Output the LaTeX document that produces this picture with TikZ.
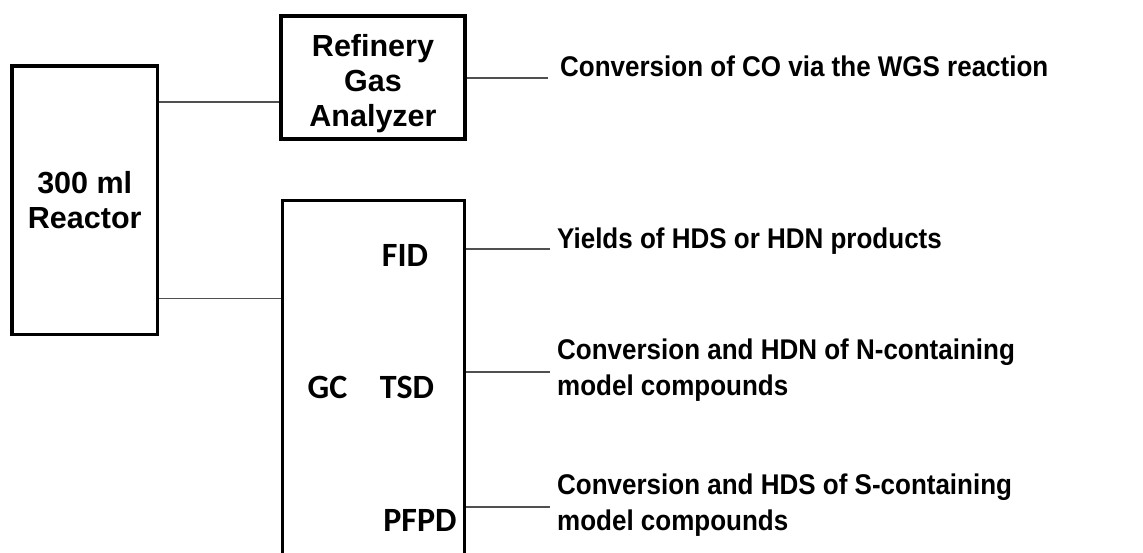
\documentclass[tikz,border=0pt]{standalone}
\usepackage{fontspec}
\setmainfont{Liberation Sans}
\newfontfamily\calfont{Carlito}
\newfontfamily\resfont{Liberation Sans}[FakeStretch=0.912]
\definecolor{linegray}{RGB}{80,80,80}
\begin{document}
\begin{tikzpicture}[x=1pt,y=-1pt,
  box/.style={draw, line width=3.5pt, inner sep=0pt},
  boxtext/.style={inner sep=0pt, align=center,
    font=\bfseries\fontsize{30.5}{35}\selectfont},
  conn/.style={draw=linegray, line width=1.7pt},
  det/.style={inner sep=0pt, font=\calfont\bfseries\fontsize{34}{38}\selectfont},
  res/.style={inner sep=0pt, align=left, anchor=west,
    font=\resfont\bfseries\fontsize{28.5}{35.5}\selectfont}]
\useasboundingbox (0,0) rectangle (1143,552);
\clip (0,0) rectangle (1143,552);
\fill[white] (0,0) rectangle (1143,552);
% boxes
\node[box, minimum width=145.5pt, minimum height=268.5pt] (reactor) at (84.75,200.25) {};
\node[boxtext] (reactortext) at (reactor.center) {300 ml\\Reactor};
\node[box, minimum width=184pt, minimum height=123pt] (rga) at (373,77.5) {};
\node[boxtext] (rgatext) at ([yshift=-6pt]rga.center) {Refinery\\Gas\\Analyzer};
\node[box, minimum width=182pt, minimum height=380pt] (gc) at (373.5,390.5) {};
% detector labels
\node[det] (gclbl) at (327.5,387) {GC};
\node[det] (fid) at (405,255) {FID};
\node[det] (tsd) at (407,387) {TSD};
\node[det] (pfpd) at (420,520) {PFPD};
% result texts
\node[res, anchor=base west] (r1) at (560,76.7) {Conversion of CO via the WGS reaction};
\node[res, anchor=base west] (r2) at (557,248.3) {Yields of HDS or HDN products};
\node[res] (r3) at (557,370) {Conversion and HDN of N-containing\\model compounds};
\node[res] (r4) at (557,505) {Conversion and HDS of S-containing\\model compounds};
% connector anchors
\coordinate (c1) at (0,102);
\coordinate (c2) at (0,298.5);
\coordinate (e1) at (548,78);
\coordinate (e2) at (550,249);
\coordinate (e3) at (550,372);
\coordinate (e4) at (550,507);
% connectors
\draw[conn] (reactor.east |- c1) -- (rga.west |- c1);
\draw[conn] (reactor.east |- c2) -- (gc.west |- c2);
\draw[conn] (rga.east |- e1) -- (e1);
\draw[conn] (gc.east |- e2) -- (e2);
\draw[conn] (gc.east |- e3) -- (e3);
\draw[conn] (gc.east |- e4) -- (e4);
\end{tikzpicture}
\end{document}
